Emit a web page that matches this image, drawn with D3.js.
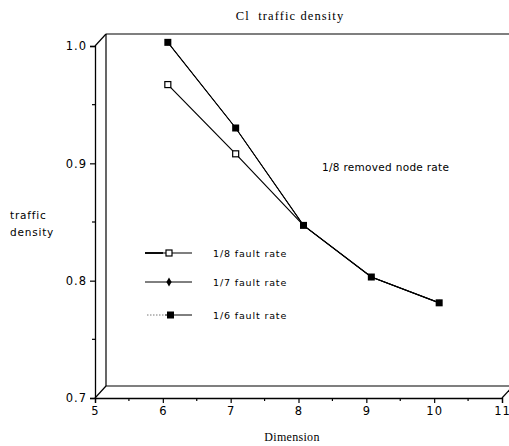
<!DOCTYPE html>
<html><head><meta charset="utf-8">
<script src="https://cdn.jsdelivr.net/npm/d3@7"></script>
<style>body{margin:0;background:#fff}</style>
</head><body>
<svg id="c" width="509" height="446"></svg>
<script>
const dims = [6, 7, 8, 9, 10];
const rate18 = [0.962, 0.903, 0.842, 0.798, 0.776];
const rate17 = [0.998, 0.925, 0.842, 0.798, 0.776];
const rate16 = [0.998, 0.925, 0.842, 0.798, 0.776];
const seriesNames = ["1/8 fault rate", "1/7 fault rate", "1/6 fault rate"];
const xTicks = [5, 6, 7, 8, 9, 10, 11];
const yTicks = [0.7, 0.8, 0.9, 1.0];

const svg = d3.select("#c");
const x = d3.scaleLinear().domain([5, 11]).range([95, 502]);
const y = d3.scaleLinear().domain([0.7, 1.0]).range([398, 46]);
const DX = 11, DY = -12;      // depth of the 3D frame
const MX = 5, MY = -6;        // series drawn at mid depth

const g = svg.append("g");
const ln = (x1,y1,x2,y2,w) => g.append("line").attr("x1",x1).attr("y1",y1).attr("x2",x2).attr("y2",y2)
  .attr("stroke","#000").attr("stroke-width",w||1.2);

// back panel
ln(x(5)+DX, y(1.0)+DY, 509, y(1.0)+DY, 1.2);
ln(x(5)+DX, y(1.0)+DY, x(5)+DX, y(0.7)+DY, 1.2);
ln(x(5)+DX, y(0.7)+DY, 509, y(0.7)+DY, 1.2);
// depth edges
ln(x(5), y(1.0), x(5)+DX, y(1.0)+DY, 1.2);
ln(x(5), y(0.7), x(5)+DX, y(0.7)+DY, 1.2);
ln(x(11), y(0.7), x(11)+DX, y(0.7)+DY, 1.2);

// front axes
const yAxis = d3.axisLeft(y).tickValues(yTicks).tickFormat(d3.format(".1f")).tickSize(5).tickPadding(3);
const ya = g.append("g").attr("transform",`translate(${x(5)},0)`).call(yAxis);
const xAxis = d3.axisBottom(x).tickValues(xTicks).tickFormat(d3.format("d")).tickSize(5).tickPadding(4);
const xa = g.append("g").attr("transform",`translate(0,${y(0.7)})`).call(xAxis);
[ya, xa].forEach(a => {
  a.select(".domain").attr("stroke","#000").attr("stroke-width",1.3);
  a.selectAll(".tick line").attr("stroke","#000").attr("stroke-width",1.2);
  a.selectAll("text").attr("fill","#000").style("font-family","DejaVu Sans, sans-serif").style("font-size","11.5px").style("letter-spacing","1px");
});
// minor ticks
const yMinor = [0.75, 0.85, 0.95];
g.selectAll(".ym").data(yMinor).enter().append("line")
  .attr("x1", x(5)-3).attr("x2", x(5)).attr("y1", d=>y(d)).attr("y2", d=>y(d)).attr("stroke","#000").attr("stroke-width",1.2);
const xMinor = [5.5, 6.5, 7.5, 8.5, 9.5, 10.5];
g.selectAll(".xm").data(xMinor).enter().append("line")
  .attr("x1", d=>x(d)).attr("x2", d=>x(d)).attr("y1", y(0.7)).attr("y2", y(0.7)+3).attr("stroke","#000").attr("stroke-width",1.2);

// series
const line = d3.line().x(d=>x(d[0])+MX).y(d=>y(d[1])+MY);
const s18 = dims.map((d,i)=>[d, rate18[i]]);
const s17 = dims.map((d,i)=>[d, rate17[i]]);
const s16 = dims.map((d,i)=>[d, rate16[i]]);
g.append("path").attr("d", line(s17)).attr("fill","none").attr("stroke","#000").attr("stroke-width",1);
g.append("path").attr("d", line(s16)).attr("fill","none").attr("stroke","#000").attr("stroke-width",1.1);
g.append("path").attr("d", line(s18)).attr("fill","none").attr("stroke","#000").attr("stroke-width",1.2);
g.selectAll(".m17").data(s17).enter().append("path")
  .attr("d", d3.symbol(d3.symbolDiamond, 12)()).attr("transform", d=>`translate(${x(d[0])+MX},${y(d[1])+MY})`).attr("fill","#000");
g.selectAll(".m16").data(s16).enter().append("rect")
  .attr("x", d=>x(d[0])+MX-3.5).attr("y", d=>y(d[1])+MY-3.5).attr("width",7).attr("height",7).attr("fill","#000");
g.selectAll(".m18").data(s18.slice(0,2)).enter().append("rect")
  .attr("x", d=>x(d[0])+MX-3).attr("y", d=>y(d[1])+MY-3).attr("width",6).attr("height",6)
  .attr("fill","#fff").attr("stroke","#000").attr("stroke-width",1.2);

// legend
const legY = [253, 282, 315];
const lg = g.append("g");
seriesNames.forEach((nm, i) => {
  const yy = legY[i];
  if (i === 0) {
    lg.append("line").attr("x1",145).attr("x2",192).attr("y1",yy).attr("y2",yy).attr("stroke","#000").attr("stroke-width",1.2);
    lg.append("line").attr("x1",145).attr("x2",163).attr("y1",yy).attr("y2",yy).attr("stroke","#000").attr("stroke-width",1.8);
    lg.append("rect").attr("x",166).attr("y",yy-3).attr("width",6).attr("height",6).attr("fill","#fff").attr("stroke","#000").attr("stroke-width",1.2);
  } else if (i === 1) {
    lg.append("line").attr("x1",145).attr("x2",192).attr("y1",yy).attr("y2",yy).attr("stroke","#000").attr("stroke-width",1);
    lg.append("path").attr("d", d3.symbol(d3.symbolDiamond, 24)()).attr("transform",`translate(169,${yy})`).attr("fill","#000");
  } else {
    lg.append("line").attr("x1",147).attr("x2",165).attr("y1",yy).attr("y2",yy).attr("stroke","#555").attr("stroke-width",0.8).attr("stroke-dasharray","1.5,1.5");
    lg.append("line").attr("x1",165).attr("x2",192).attr("y1",yy).attr("y2",yy).attr("stroke","#000").attr("stroke-width",1);
    lg.append("rect").attr("x",167).attr("y",yy-3.5).attr("width",7).attr("height",7).attr("fill","#000");
  }
  lg.append("text").attr("x",213).attr("y",yy+3.5).text(nm)
    .style("font-family","DejaVu Sans, sans-serif").style("font-size","9.5px").style("letter-spacing","0.85px").attr("fill","#000");
});

// texts
const txt = (t, xx, yy, font, size, anchor, ls) => g.append("text").attr("x",xx).attr("y",yy).text(t)
  .attr("text-anchor",anchor||"start").style("white-space","pre").style("font-family",font).style("font-size",size).style("letter-spacing",ls||"0px").attr("fill","#000");
txt("Cl  traffic density", 290, 20, "Liberation Serif, serif", "12.5px", "middle", "1.1px");
txt("1/8 removed node rate", 322, 171, "DejaVu Sans, sans-serif", "10.5px", "start", "0.3px");
txt("traffic", 10, 219, "DejaVu Sans, sans-serif", "10.5px", "start", "0.8px");
txt("density", 10, 236, "DejaVu Sans, sans-serif", "10.5px", "start", "0.8px");
txt("Dimension", 292, 441, "Liberation Serif, serif", "12px", "middle", "0.3px");
</script>
</body></html>
